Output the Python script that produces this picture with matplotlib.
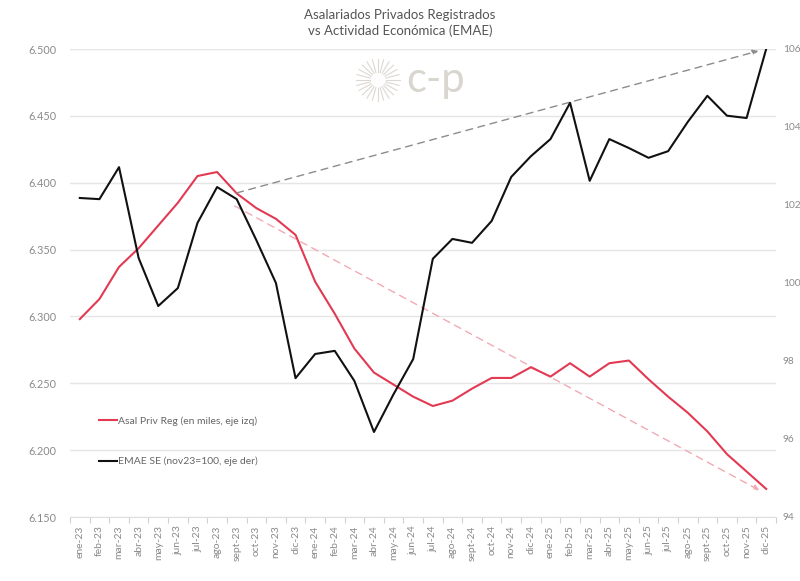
import matplotlib
matplotlib.use("Agg")
import matplotlib.pyplot as plt
import numpy as np
from matplotlib.ticker import FuncFormatter, FixedLocator

plt.rcParams['font.family'] = ['Lato', 'DejaVu Sans']

months = ["ene-23", "feb-23", "mar-23", "abr-23", "may-23", "jun-23", "jul-23", "ago-23",
          "sept-23", "oct-23", "nov-23", "dic-23",
          "ene-24", "feb-24", "mar-24", "abr-24", "may-24", "jun-24", "jul-24", "ago-24",
          "sept-24", "oct-24", "nov-24", "dic-24",
          "ene-25", "feb-25", "mar-25", "abr-25", "may-25", "jun-25", "jul-25", "ago-25",
          "sept-25", "oct-25", "nov-25", "dic-25"]

# Asalariados privados registrados (miles) - eje izq
asal = [6298, 6313, 6337, 6351, 6368, 6385, 6405, 6408, 6392, 6381, 6373, 6361,
        6326, 6302, 6276, 6258, 6249, 6240, 6233, 6237, 6246, 6254, 6254, 6262,
        6255, 6265, 6255, 6265, 6267, 6253, 6240, 6228, 6214, 6197, 6184, 6171]

# EMAE SE (nov23=100) - eje der
emae = [102.18, 102.15, 102.97, 100.64, 99.41, 99.87, 101.54, 102.46, 102.15, 101.10, 100.0, 97.56,
        98.18, 98.26, 97.49, 96.18, 97.15, 98.05, 100.62, 101.13, 101.03, 101.59, 102.72, 103.25,
        103.69, 104.62, 102.62, 103.69, 103.46, 103.21, 103.38, 104.13, 104.80, 104.29, 104.23, 106.0]

left_ticks = [6150, 6200, 6250, 6300, 6350, 6400, 6450, 6500]
right_ticks = [94, 96, 98, 100, 102, 104, 106]

# trend arrows: (x index, value)
trend_up = [(8.0, 102.31), (34.6, 105.95)]
trend_down = [(7.9, 6382.6), (34.65, 6170.0)]

title = "Asalariados Privados Registrados\nvs Actividad Económica (EMAE)"
lab_asal = "Asal Priv Reg (en miles, eje izq)"
lab_emae = "EMAE SE (nov23=100, eje der)"

RED = '#e23a52'
GRAY = '#8a8a8a'

fig = plt.figure(figsize=(8, 5.81), dpi=100)
ax = fig.add_axes([70/800, 1-517/581, 706/800, 468/581])
ax2 = ax.twinx()

x = np.arange(len(months))
l1, = ax.plot(x, asal, color=RED, lw=1.5, zorder=3, label=lab_asal)
l2, = ax2.plot(x, emae, color='#111111', lw=1.5, zorder=3, label=lab_emae)

ax.set_xlim(-0.5, len(months) - 0.5)
ax.set_ylim(6150, 6500)
ax2.set_ylim(94, 106)

ax.set_yticks(left_ticks)
ax.yaxis.set_major_formatter(FuncFormatter(lambda v, p: f"{v/1000:.3f}"))
ax2.set_yticks(right_ticks)
ax.grid(axis='y', color='#e5e5e5', lw=1)
ax.set_axisbelow(True)

ax.set_xticks(x)
ax.set_xticklabels(months, rotation=90)
ax.xaxis.set_minor_locator(FixedLocator(np.arange(-0.5, len(months), 1)))
ax.tick_params(axis='x', which='major', length=0, pad=6, labelsize=7.5, labelcolor=GRAY)
ax.tick_params(axis='x', which='minor', length=4, color='#d0d0d0', width=0.8)
ax.tick_params(axis='y', length=0, pad=10, labelsize=7.8, labelcolor=GRAY)
ax2.tick_params(axis='y', length=0, pad=5, labelsize=7.3, labelcolor=GRAY)

for a in (ax, ax2):
    for s in a.spines.values():
        s.set_visible(False)
ax.spines['bottom'].set_visible(True)
ax.spines['bottom'].set_color('#e0e0e0')

# trend arrows
ax2.annotate('', xy=trend_up[1], xytext=trend_up[0],
             arrowprops=dict(arrowstyle='-|>', color='#8c8c8c', lw=1, ls=(0, (5, 4)),
                             mutation_scale=8, shrinkA=0, shrinkB=0), zorder=2)
ax.annotate('', xy=trend_down[1], xytext=trend_down[0],
            arrowprops=dict(arrowstyle='-|>', color='#f2aab4', lw=1, ls=(0, (5, 4)),
                            mutation_scale=8, shrinkA=0, shrinkB=0), zorder=2)

leg = fig.legend(handles=[l1, l2], loc='upper left', bbox_to_anchor=(99/800, 1-416/581),
                 frameon=False, fontsize=7.5, labelspacing=3.0, handlelength=1.7,
                 handletextpad=0.1, borderpad=0, borderaxespad=0)
for t in leg.get_texts():
    t.set_color('#666666')

fig.text(0.5, 1-23/581, title, ha='center', va='center', fontsize=9.5, color='#555555',
         linespacing=1.3)

# logo
lax = fig.add_axes([355/800, 1-102/581, 46/800, 44/581])
lax.set_xlim(-1, 1); lax.set_ylim(-1, 1); lax.axis('off')
for ang in np.linspace(0, 2*np.pi, 24, endpoint=False):
    lax.plot([0.35*np.cos(ang), 0.95*np.cos(ang)], [0.35*np.sin(ang), 0.95*np.sin(ang)],
             color='#ddd8d2', lw=0.8)
fig.text(406/800, 1-80/581, "c-p", ha='left', va='center', fontsize=30, color='#d9d5cf')

fig.savefig("out.png", dpi=100)
